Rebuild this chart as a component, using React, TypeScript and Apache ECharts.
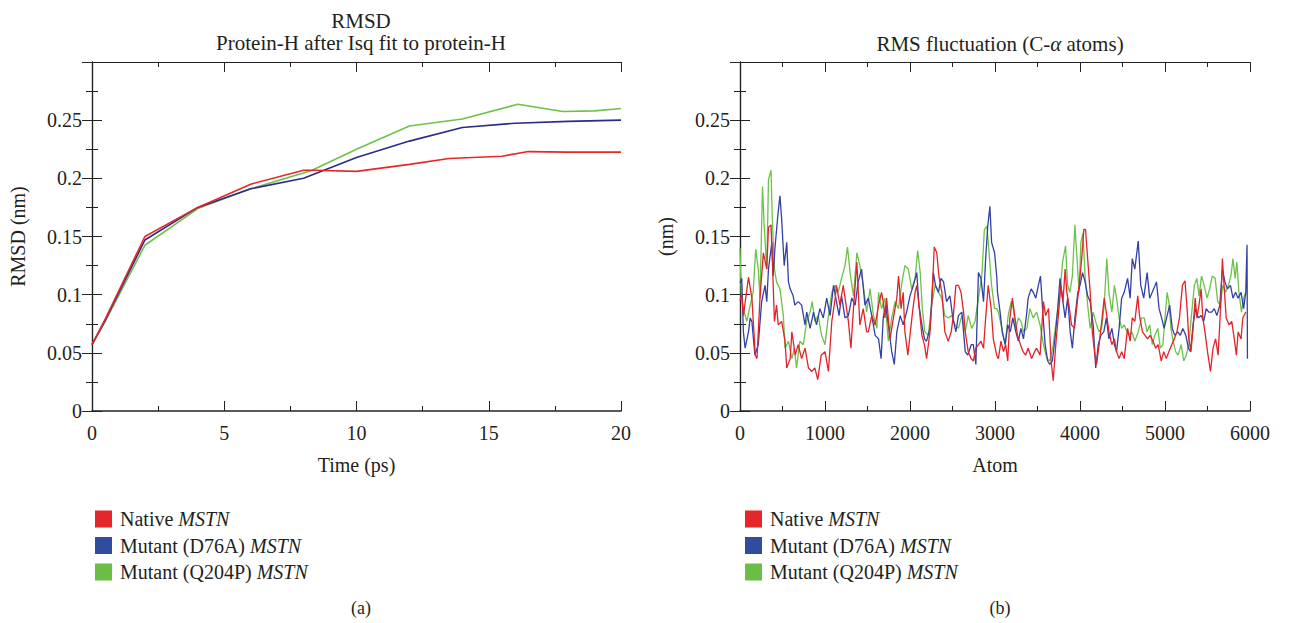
import React, { useEffect, useRef } from "react";
import * as echarts from "echarts";

// ---------- RMSD (left) : [time (ps), RMSD (nm)] ----------
const rmsdNative: number[][] = [
  [0, 0.057], [0.5, 0.079], [2, 0.15], [4, 0.175], [6, 0.195], [8, 0.207], [8.4, 0.207],
  [10, 0.206], [12, 0.212], [13.5, 0.217], [15.5, 0.219], [16.5, 0.223], [18, 0.2225], [20, 0.2225],
];
const rmsdD76A: number[][] = [
  [0, 0.057], [0.5, 0.078], [2, 0.147], [4, 0.175], [6, 0.191], [8, 0.2], [10, 0.218],
  [12, 0.232], [14, 0.2437], [16, 0.2474], [18, 0.249], [20, 0.25],
];
const rmsdQ204P: number[][] = [
  [0, 0.057], [0.5, 0.077], [2, 0.1425], [4, 0.174], [6, 0.191], [8.3, 0.2067], [10, 0.225],
  [12, 0.245], [14, 0.251], [16.1, 0.2637], [17.8, 0.2574], [19, 0.258], [20, 0.26],
];

// ---------- RMSF (right) : [atom, RMSF (nm)] ----------
const rmsfNative: number[][] = [
  [0, 0.095], [20, 0.1], [40, 0.082], [100, 0.115], [140, 0.097], [180, 0.048], [200, 0.045], [235, 0.097],
  [275, 0.136], [315, 0.122], [335, 0.158], [365, 0.16], [380, 0.131], [405, 0.077], [430, 0.091], [450, 0.074],
  [490, 0.077], [530, 0.06], [550, 0.037], [590, 0.045], [610, 0.068], [650, 0.048], [685, 0.057], [725, 0.045],
  [765, 0.054], [805, 0.037], [845, 0.034], [880, 0.037], [915, 0.027], [955, 0.048], [1000, 0.051], [1040, 0.034],
  [1080, 0.077], [1120, 0.097], [1135, 0.108], [1175, 0.091], [1215, 0.108], [1275, 0.077], [1305, 0.054], [1335, 0.088],
  [1375, 0.128], [1410, 0.074], [1450, 0.088], [1490, 0.068],
  [1510, 0.068], [1550, 0.082], [1590, 0.074], [1630, 0.091], [1665, 0.102], [1685, 0.094], [1705, 0.08], [1725, 0.097],
  [1765, 0.062], [1805, 0.08], [1845, 0.097], [1865, 0.116], [1895, 0.088], [1920, 0.102], [1940, 0.068], [1975, 0.048],
  [2000, 0.065], [2030, 0.085], [2060, 0.102], [2080, 0.108], [2105, 0.091], [2140, 0.065], [2170, 0.057], [2195, 0.045],
  [2235, 0.068], [2255, 0.091], [2285, 0.141], [2315, 0.136], [2340, 0.116], [2375, 0.102], [2410, 0.068], [2450, 0.06],
  [2485, 0.068], [2510, 0.082], [2540, 0.108], [2570, 0.108], [2600, 0.102], [2630, 0.085], [2650, 0.068], [2685, 0.051],
  [2720, 0.045], [2745, 0.043], [2775, 0.054], [2805, 0.057], [2835, 0.06], [2865, 0.054], [2890, 0.08], [2920, 0.108],
  [2955, 0.088], [2980, 0.062], [3020, 0.048],
  [3040, 0.045], [3070, 0.06], [3100, 0.051], [3125, 0.057], [3150, 0.043], [3175, 0.08], [3205, 0.097], [3235, 0.08],
  [3265, 0.065], [3300, 0.057], [3330, 0.051], [3360, 0.048], [3390, 0.054], [3430, 0.045], [3465, 0.051], [3490, 0.054],
  [3530, 0.048], [3570, 0.094], [3595, 0.082], [3630, 0.088], [3660, 0.043], [3685, 0.026], [3715, 0.057], [3745, 0.082],
  [3775, 0.108], [3800, 0.094], [3825, 0.122], [3845, 0.102], [3870, 0.091], [3900, 0.074], [3935, 0.071], [3960, 0.088],
  [3990, 0.108], [4020, 0.131], [4045, 0.156], [4065, 0.156], [4090, 0.131], [4120, 0.102], [4145, 0.068], [4175, 0.048],
  [4195, 0.04], [4225, 0.057], [4255, 0.077], [4285, 0.097], [4315, 0.082], [4340, 0.068], [4375, 0.057], [4405, 0.062],
  [4430, 0.051], [4460, 0.045], [4490, 0.051], [4520, 0.045],
  [4560, 0.071], [4590, 0.06], [4615, 0.08], [4645, 0.077], [4680, 0.099], [4700, 0.082], [4735, 0.068], [4765, 0.065],
  [4795, 0.062], [4825, 0.065], [4860, 0.06], [4890, 0.054], [4920, 0.057], [4955, 0.043], [4985, 0.051], [5015, 0.045],
  [5045, 0.051], [5080, 0.057], [5110, 0.062], [5140, 0.068], [5170, 0.08], [5205, 0.108], [5235, 0.112], [5260, 0.088],
  [5280, 0.062], [5305, 0.051], [5330, 0.071], [5355, 0.097], [5375, 0.08], [5400, 0.091], [5425, 0.105], [5445, 0.08],
  [5470, 0.068], [5500, 0.051], [5535, 0.034], [5565, 0.054], [5595, 0.062], [5625, 0.048], [5660, 0.097], [5675, 0.131],
  [5700, 0.102], [5720, 0.08], [5755, 0.074], [5785, 0.077], [5815, 0.062], [5840, 0.048], [5860, 0.068], [5895, 0.062],
  [5915, 0.08], [5950, 0.085],
];
const rmsfD76A: number[][] = [
  [0, 0.11], [20, 0.114], [40, 0.068], [60, 0.054], [100, 0.068], [120, 0.08], [140, 0.077], [175, 0.048], [215, 0.057],
  [255, 0.094], [295, 0.108], [315, 0.094], [335, 0.122], [375, 0.145], [390, 0.116], [410, 0.139], [445, 0.168],
  [470, 0.185], [490, 0.165], [520, 0.125], [550, 0.145], [570, 0.111], [590, 0.105], [625, 0.099], [645, 0.091],
  [685, 0.094], [725, 0.091], [765, 0.074], [785, 0.085], [825, 0.071], [865, 0.085], [900, 0.074], [940, 0.088],
  [980, 0.08], [1020, 0.097], [1060, 0.082], [1100, 0.108], [1135, 0.094], [1165, 0.082], [1195, 0.099], [1235, 0.08],
  [1275, 0.082], [1315, 0.097], [1355, 0.091], [1390, 0.111], [1430, 0.122], [1470, 0.091],
  [1510, 0.097], [1550, 0.082], [1590, 0.065], [1630, 0.062], [1660, 0.045], [1685, 0.08], [1715, 0.091], [1745, 0.074],
  [1785, 0.051], [1815, 0.04], [1845, 0.068], [1885, 0.082], [1920, 0.074], [1960, 0.085], [2000, 0.099], [2040, 0.108],
  [2080, 0.119], [2105, 0.091], [2140, 0.074], [2170, 0.062], [2195, 0.06], [2235, 0.071], [2275, 0.119], [2300, 0.108],
  [2335, 0.102], [2365, 0.114], [2395, 0.111], [2430, 0.094], [2470, 0.099], [2500, 0.082], [2540, 0.068], [2570, 0.082],
  [2610, 0.085], [2650, 0.051], [2680, 0.048], [2720, 0.057], [2745, 0.057], [2775, 0.04], [2805, 0.119], [2835, 0.114],
  [2865, 0.094], [2890, 0.131], [2915, 0.159], [2940, 0.176], [2960, 0.145], [2995, 0.136], [3020, 0.116],
  [3030, 0.102], [3060, 0.085], [3085, 0.068], [3120, 0.057], [3150, 0.074], [3180, 0.068], [3210, 0.08], [3245, 0.068],
  [3275, 0.06], [3305, 0.071], [3335, 0.062], [3370, 0.082], [3390, 0.097], [3425, 0.105], [3450, 0.102], [3480, 0.097],
  [3510, 0.108], [3535, 0.116], [3565, 0.082], [3590, 0.057], [3620, 0.043], [3645, 0.04], [3675, 0.043], [3705, 0.062],
  [3735, 0.085], [3765, 0.114], [3790, 0.099], [3825, 0.08], [3855, 0.097], [3885, 0.068], [3910, 0.054], [3940, 0.08],
  [3975, 0.102], [4000, 0.108], [4030, 0.119], [4060, 0.111], [4090, 0.099], [4120, 0.094], [4155, 0.074], [4185, 0.037],
  [4215, 0.057], [4245, 0.065], [4280, 0.068], [4310, 0.08], [4340, 0.062], [4375, 0.071], [4405, 0.057], [4430, 0.051],
  [4460, 0.071], [4490, 0.097], [4520, 0.102],
  [4560, 0.114], [4590, 0.097], [4615, 0.131], [4645, 0.122], [4685, 0.146], [4715, 0.108], [4750, 0.097], [4790, 0.119],
  [4820, 0.097], [4850, 0.102], [4900, 0.111], [4930, 0.088], [4960, 0.08], [4990, 0.071], [5025, 0.082], [5055, 0.091],
  [5085, 0.071], [5115, 0.065], [5150, 0.068], [5180, 0.065], [5210, 0.071], [5245, 0.065], [5275, 0.054], [5300, 0.051],
  [5330, 0.074], [5360, 0.088], [5390, 0.08], [5425, 0.082], [5455, 0.077], [5485, 0.088], [5515, 0.085], [5550, 0.085],
  [5580, 0.088], [5610, 0.082], [5645, 0.091], [5675, 0.122], [5705, 0.111], [5735, 0.105], [5770, 0.108], [5800, 0.097],
  [5830, 0.102], [5860, 0.097], [5895, 0.102], [5925, 0.088], [5950, 0.102], [5965, 0.143], [5970, 0.045],
];
const rmsfQ204P: number[][] = [
  [0, 0.14], [15, 0.1], [40, 0.088], [80, 0.077], [120, 0.091], [155, 0.102], [185, 0.139], [215, 0.122], [235, 0.097],
  [265, 0.193], [285, 0.159], [315, 0.122], [335, 0.199], [365, 0.207], [380, 0.165], [405, 0.122], [430, 0.111],
  [470, 0.105], [510, 0.082], [530, 0.054], [570, 0.06], [610, 0.045], [640, 0.054], [665, 0.037], [705, 0.06],
  [745, 0.057], [785, 0.077], [825, 0.085], [850, 0.094], [880, 0.077], [920, 0.082], [960, 0.065], [1000, 0.057],
  [1040, 0.082], [1080, 0.102], [1120, 0.108], [1155, 0.102], [1195, 0.114], [1235, 0.125], [1265, 0.141], [1295, 0.119],
  [1335, 0.099], [1375, 0.136], [1410, 0.125], [1450, 0.108], [1490, 0.085],
  [1530, 0.105], [1570, 0.082], [1610, 0.071], [1630, 0.102], [1665, 0.088], [1705, 0.097], [1745, 0.06], [1785, 0.08],
  [1825, 0.094], [1865, 0.088], [1900, 0.108], [1940, 0.125], [1980, 0.122], [2020, 0.105], [2060, 0.114], [2090, 0.138],
  [2120, 0.119], [2145, 0.088], [2175, 0.068], [2215, 0.065], [2255, 0.091], [2295, 0.108], [2335, 0.102], [2375, 0.097],
  [2410, 0.082], [2450, 0.08], [2490, 0.082], [2530, 0.074], [2570, 0.071], [2610, 0.082], [2650, 0.068], [2685, 0.082],
  [2725, 0.071], [2765, 0.077], [2805, 0.097], [2845, 0.116], [2875, 0.156], [2905, 0.159], [2930, 0.136], [2960, 0.108],
  [2995, 0.088], [3020, 0.088],
  [3040, 0.085], [3080, 0.071], [3120, 0.057], [3155, 0.082], [3190, 0.094], [3215, 0.088], [3245, 0.071], [3275, 0.08],
  [3305, 0.077], [3335, 0.068], [3375, 0.071], [3410, 0.088], [3450, 0.08], [3490, 0.085], [3530, 0.074], [3570, 0.057],
  [3610, 0.045], [3645, 0.043], [3685, 0.057], [3725, 0.08], [3765, 0.102], [3795, 0.128], [3830, 0.142], [3855, 0.108],
  [3880, 0.102], [3910, 0.116], [3940, 0.16], [3965, 0.131], [3990, 0.102], [4010, 0.145], [4035, 0.153], [4060, 0.116],
  [4090, 0.091], [4120, 0.071], [4155, 0.085], [4195, 0.074], [4225, 0.068], [4255, 0.071], [4285, 0.091], [4315, 0.131],
  [4340, 0.102], [4375, 0.085], [4405, 0.108], [4430, 0.097], [4460, 0.08], [4490, 0.071], [4520, 0.074],
  [4570, 0.065], [4610, 0.068], [4645, 0.06], [4685, 0.068], [4725, 0.08], [4755, 0.08], [4790, 0.068], [4820, 0.074],
  [4850, 0.057], [4880, 0.065], [4915, 0.071], [4945, 0.054], [4975, 0.057], [5000, 0.08], [5025, 0.102], [5045, 0.094],
  [5070, 0.071], [5095, 0.06], [5125, 0.051], [5155, 0.048], [5190, 0.057], [5220, 0.043], [5250, 0.048], [5280, 0.057],
  [5315, 0.085], [5345, 0.108], [5375, 0.114], [5400, 0.099], [5430, 0.116], [5460, 0.108], [5495, 0.097], [5525, 0.105],
  [5555, 0.116], [5590, 0.114], [5620, 0.094], [5650, 0.091], [5680, 0.108], [5715, 0.102], [5745, 0.108], [5775, 0.116],
  [5800, 0.131], [5825, 0.114], [5845, 0.128], [5870, 0.102], [5900, 0.085], [5925, 0.097], [5950, 0.102],
];

const seriesNames = ["Native MSTN", "Mutant (D76A) MSTN", "Mutant (Q204P) MSTN"];
const legendColors = ["#e3262b", "#2f4c9e", "#6cbd45"];
const lineColorsLeft = ["#e8262a", "#2a2b8a", "#6cc24a"];
const lineColorsRight = ["#e2232a", "#3340a6", "#6cc24a"];

const FONT = "'Liberation Serif', 'DejaVu Serif', serif";
const TXT = "#231f20";
const FS = 20;
const FST = 21;

function makeX(gridIndex: number, position: "bottom" | "top", max: number, interval: number, name: string) {
  const bottom = position === "bottom";
  return {
    type: "value",
    gridIndex,
    position,
    min: 0,
    max,
    interval,
    name: bottom ? name : "",
    nameLocation: "middle",
    nameGap: 44,
    nameTextStyle: { fontFamily: FONT, fontSize: FS, color: TXT },
    axisLine: { show: true, onZero: false, lineStyle: { color: "#222", width: bottom ? 1.6 : 1.2 } },
    axisTick: { show: true, inside: true, length: 10, lineStyle: { color: "#222", width: 1 } },
    minorTick: { show: true, splitNumber: 2, length: 5, lineStyle: { color: "#222", width: 1 } },
    axisLabel: {
      show: bottom,
      margin: 12,
      fontFamily: FONT,
      fontSize: FS,
      color: TXT,
      formatter: (v: number) => String(v),
    },
    splitLine: { show: false },
    minorSplitLine: { show: false },
  };
}

function makeY(gridIndex: number, position: "left" | "right", name: string) {
  const left = position === "left";
  return {
    type: "value",
    gridIndex,
    position,
    min: 0,
    max: 0.3,
    interval: 0.05,
    name: left ? name : "",
    nameLocation: "middle",
    nameGap: 64,
    nameRotate: 90,
    nameTextStyle: { fontFamily: FONT, fontSize: FS, color: TXT },
    axisLine: { show: true, lineStyle: { color: "#222", width: 1.2 } },
    axisTick: { show: true, inside: true, length: 10, lineStyle: { color: "#222", width: 1 } },
    minorTick: { show: true, splitNumber: 2, length: 6, lineStyle: { color: "#222", width: 1 } },
    axisLabel: {
      show: left,
      margin: 10,
      fontFamily: FONT,
      fontSize: FS,
      color: TXT,
      showMaxLabel: false,
    },
    splitLine: { show: false },
    minorSplitLine: { show: false },
  };
}

function makeLegend(left: number) {
  return {
    orient: "vertical",
    left,
    top: 504,
    icon: "rect",
    itemWidth: 17,
    itemHeight: 17,
    itemGap: 6.5,
    selectedMode: false,
    data: seriesNames,
    itemStyle: { borderWidth: 0 },
    formatter: (n: string) => {
      const base = n.replace(" MSTN", " ");
      return `{n|${base}}{i|MSTN}`;
    },
    textStyle: {
      fontFamily: FONT,
      fontSize: FS,
      color: TXT,
      padding: [0, 0, 0, 3],
      rich: {
        n: { fontFamily: FONT, fontSize: FS, color: TXT },
        i: { fontFamily: FONT, fontSize: FS, color: TXT, fontStyle: "italic" },
      },
    },
  };
}

export default function App() {
  const ref = useRef<HTMLDivElement>(null);
  useEffect(() => {
    if (!ref.current) return;
    const chart = echarts.init(ref.current, undefined, { renderer: "svg" });
    const datasetsL = [rmsdNative, rmsdD76A, rmsdQ204P];
    const datasetsR = [rmsfNative, rmsfD76A, rmsfQ204P];
    const series: any[] = [];
    datasetsL.forEach((d, i) =>
      series.push({
        type: "line",
        name: seriesNames[i],
        xAxisIndex: 0,
        yAxisIndex: 0,
        data: d,
        showSymbol: false,
        symbol: "none",
        itemStyle: { color: legendColors[i] },
        lineStyle: { color: lineColorsLeft[i], width: 1.6 },
        z: i === 0 ? 4 : i === 1 ? 3 : 2,
      })
    );
    datasetsR.forEach((d, i) =>
      series.push({
        type: "line",
        name: seriesNames[i],
        xAxisIndex: 2,
        yAxisIndex: 2,
        data: d,
        showSymbol: false,
        symbol: "none",
        itemStyle: { color: legendColors[i] },
        lineStyle: { color: lineColorsRight[i], width: 1.3 },
        z: i === 0 ? 4 : i === 1 ? 3 : 2,
      })
    );
    chart.setOption({
      animation: false,
      backgroundColor: "#ffffff",
      title: [
        {
          text: "RMSD\nProtein-H after Isq fit to protein-H",
          left: 356,
          top: 5,
          textAlign: "center",
          textStyle: { fontFamily: FONT, fontSize: FST, fontWeight: "normal", color: TXT, lineHeight: 22 },
        },
        {
          text: "RMS fluctuation (C-{i|α} atoms)",
          left: 995,
          top: 28,
          textAlign: "center",
          textStyle: {
            fontFamily: FONT,
            fontSize: FST,
            fontWeight: "normal",
            color: TXT,
            rich: { i: { fontFamily: FONT, fontSize: FST, fontStyle: "italic", color: TXT } },
          },
        },
        {
          text: "(a)",
          left: 356,
          top: 594,
          textAlign: "center",
          textStyle: { fontFamily: FONT, fontSize: 18, fontWeight: "normal", color: TXT },
        },
        {
          text: "(b)",
          left: 995,
          top: 594,
          textAlign: "center",
          textStyle: { fontFamily: FONT, fontSize: 18, fontWeight: "normal", color: TXT },
        },
      ],
      legend: [makeLegend(90), makeLegend(740)],
      grid: [
        { left: 92, top: 62, width: 529, height: 349, containLabel: false },
        { left: 740, top: 62, width: 510, height: 349, containLabel: false },
      ],
      xAxis: [
        makeX(0, "bottom", 20, 5, "Time (ps)"),
        makeX(0, "top", 20, 5, ""),
        makeX(1, "bottom", 6000, 1000, "Atom"),
        makeX(1, "top", 6000, 1000, ""),
      ],
      yAxis: [
        makeY(0, "left", "RMSD (nm)"),
        makeY(0, "right", ""),
        makeY(1, "left", "(nm)"),
        makeY(1, "right", ""),
      ],
      series,
    });
    return () => chart.dispose();
  }, []);
  return (
    <div
      ref={ref}
      style={{ position: "fixed", left: 0, top: 0, width: 1293, height: 623, background: "#fff" }}
    />
  );
}
